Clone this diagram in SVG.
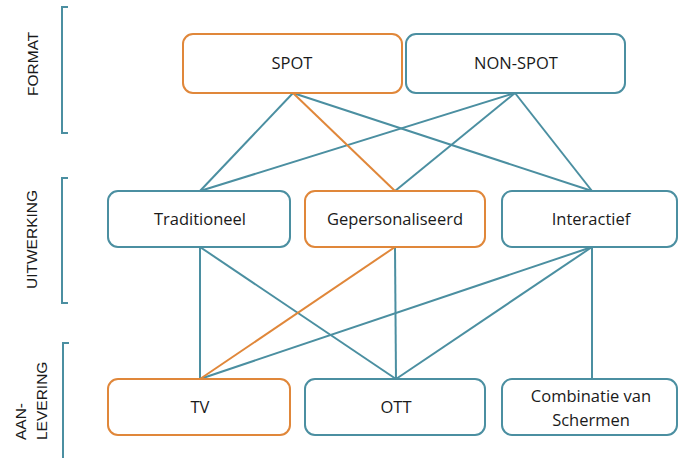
<svg xmlns="http://www.w3.org/2000/svg" width="678" height="458" viewBox="0 0 678 458">
<style>
.box{fill:#fff;stroke-width:2}
.t{stroke:#4B8FA1}
.o{stroke:#E0873A}
.lbl{font-family:"Open Sans","Liberation Sans",sans-serif;font-size:16.5px;fill:#1a1a1a;text-anchor:middle}
.side{font-family:"Liberation Sans",Arial,sans-serif;font-size:15.5px;fill:#1a1a1a}
.br{fill:none;stroke:#4B8FA1;stroke-width:2}
.c{fill:none;stroke-width:2}
</style>
<rect width="678" height="458" fill="#fff"/>
<g id="side-labels">
<path class="br" d="M68,7 H62 V133 H68"/>
<text class="side" transform="translate(38,96) rotate(-90)">FORMAT</text>
<path class="br" d="M68,178 H62 V303 H68"/>
<text class="side" transform="translate(37,289) rotate(-90)">UITWERKING</text>
<path class="br" d="M69,343 H63 V458"/>
<text class="side" transform="translate(25.5,440) rotate(-90)">AAN-</text>
<text class="side" transform="translate(47,440) rotate(-90)">LEVERING</text>
</g>
<g id="connectors">
<line class="c t" x1="293" y1="93" x2="200" y2="191"/>
<line class="c t" x1="293" y1="93" x2="592" y2="191"/>
<line class="c t" x1="515" y1="93" x2="200" y2="191"/>
<line class="c t" x1="515" y1="93" x2="395" y2="191"/>
<line class="c t" x1="515" y1="93" x2="592" y2="191"/>
<line class="c t" x1="200" y1="247" x2="200" y2="379"/>
<line class="c t" x1="200" y1="247" x2="396" y2="379"/>
<line class="c t" x1="395" y1="247" x2="396" y2="379"/>
<line class="c t" x1="592" y1="247" x2="200" y2="379"/>
<line class="c t" x1="592" y1="247" x2="396" y2="379"/>
<line class="c t" x1="592" y1="247" x2="592" y2="379"/>
<line class="c o" x1="293" y1="93" x2="395" y2="191"/>
<line class="c o" x1="395" y1="247" x2="200" y2="379"/>
</g>
<g id="spot">
<rect class="box o" x="183" y="34" width="219" height="59" rx="10"/>
<text class="lbl" x="292" y="69">SPOT</text>
</g>
<g id="non-spot">
<rect class="box t" x="406" y="34" width="219" height="59" rx="10"/>
<text class="lbl" x="516" y="69">NON-SPOT</text>
</g>
<g id="traditioneel">
<rect class="box t" x="108" y="191" width="182" height="56" rx="10"/>
<text class="lbl" x="200" y="225">Traditioneel</text>
</g>
<g id="gepersonaliseerd">
<rect class="box o" x="305" y="191" width="180" height="56" rx="10"/>
<text class="lbl" x="395" y="225">Gepersonaliseerd</text>
</g>
<g id="interactief">
<rect class="box t" x="502" y="191" width="175" height="56" rx="10"/>
<text class="lbl" x="591" y="225">Interactief</text>
</g>
<g id="tv">
<rect class="box o" x="108" y="379" width="182" height="56" rx="10"/>
<text class="lbl" x="200" y="413">TV</text>
</g>
<g id="ott">
<rect class="box t" x="305" y="379" width="180" height="56" rx="10"/>
<text class="lbl" x="396" y="413">OTT</text>
</g>
<g id="combinatie">
<rect class="box t" x="502" y="379" width="175" height="56" rx="10"/>
<text class="lbl" x="591" y="402">Combinatie van</text>
<text class="lbl" x="591" y="426">Schermen</text>
</g>
</svg>
